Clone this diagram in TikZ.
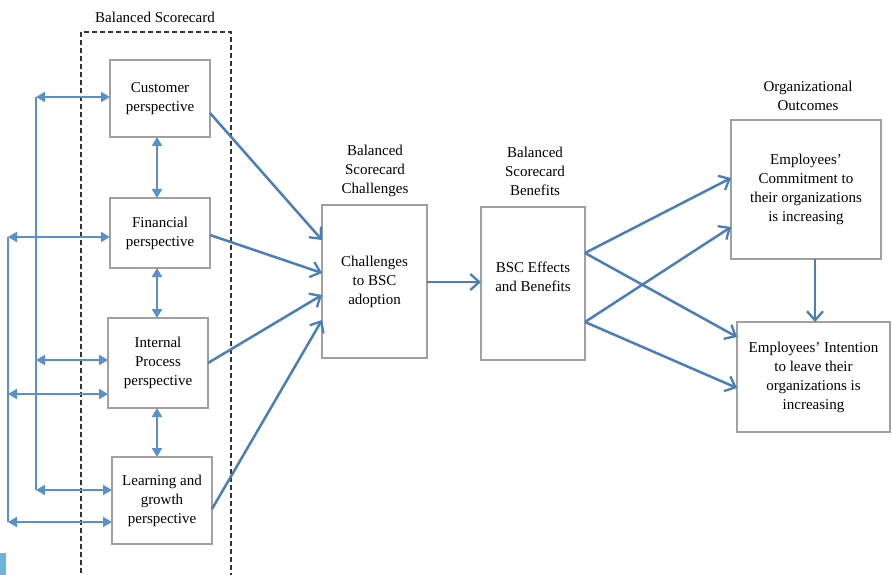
\documentclass[tikz,border=0pt]{standalone}
\usepackage{fontspec}
\setmainfont{Liberation Serif}
\usetikzlibrary{arrows.meta,calc}
\definecolor{arrblue}{HTML}{4A7EBB}
\definecolor{ltblue}{HTML}{5B8FCB}
\definecolor{boxgray}{HTML}{A0A0A0}
\definecolor{dashgray}{HTML}{333333}
\definecolor{cyansq}{HTML}{6CB4DA}
\tikzset{
  box/.style={draw=boxgray, line width=2pt, fill=white, inner sep=0pt, outer sep=0pt, align=center},
  lbl/.style={inner sep=0pt, align=center},
  bigarr/.style={draw=arrblue, line width=2.5pt, -{Straight Barb[length=9pt,width=16pt,line width=2.3pt]}},
  dbl/.style={draw=ltblue, line width=2pt, {Triangle[length=9pt,width=10pt]}-{Triangle[length=9pt,width=10pt]}},
  vline/.style={draw=ltblue, line width=2pt},
}
\begin{document}
\begin{tikzpicture}[x=1pt,y=-1pt]
\useasboundingbox (0,0) rectangle (892,575);
\clip (0,0) rectangle (892,575);
\fontsize{15}{19}\selectfont
% dashed frame
\draw[dashgray, line width=2.8pt, dash pattern=on 5pt off 3pt] (81,32) rectangle (231,590);
\node[lbl] (bsclbl) at (155,17) {Balanced Scorecard};
% small cyan mark
\fill[cyansq] (0,553) rectangle (6,575);
% perspective boxes
\node[box, minimum width=100pt, minimum height=77pt] (cust) at (160,98.5) {Customer\\perspective};
\node[box, minimum width=100pt, minimum height=70pt] (fin) at (160,233) {Financial\\perspective};
\node[box, minimum width=100pt, minimum height=90pt] (int) at (158,363) {Internal\\Process\\perspective};
\node[box, minimum width=100pt, minimum height=87pt] (learn) at (162,500.5) {Learning and\\growth\\perspective};
% middle boxes
\node[lbl] (challbl) at (375,171) {Balanced\\Scorecard\\Challenges};
\node[box, minimum width=105pt, minimum height=153pt] (chal) at (374.5,281.5) {Challenges\\to BSC\\adoption};
\node[lbl] (benlbl) at (535,171) {Balanced\\Scorecard\\Benefits};
\node[box, minimum width=104pt, minimum height=153pt] (ben) at (533,283.5) {};
\node[lbl] (bentext) at (533,277) {BSC Effects\\and Benefits};
% outcome boxes
\node[lbl] (orglbl) at (808,96) {\fontsize{15}{18}\selectfont Organizational\\Outcomes};
\node[box, minimum width=150pt, minimum height=139pt] (comm) at (806,189.5) {Employees’\\Commitment to\\their organizations\\is increasing};
\node[box, minimum width=153pt, minimum height=110pt] (inten) at (813.5,377) {Employees’ Intention\\to leave their\\organizations is\\increasing};
% left feedback lines
\coordinate (i1) at (36,97);
\coordinate (i2) at (36,360);
\coordinate (i3) at (36,490);
\coordinate (o1) at (8,237);
\coordinate (o2) at (8,394);
\coordinate (o3) at (8,522);
\draw[vline] (i1) -- (i3);
\draw[vline] (o1) -- (o3);
\draw[dbl] (i1) -- (i1 -| cust.west);
\draw[dbl] (o1) -- (o1 -| fin.west);
\draw[dbl] (i2) -- (i2 -| int.west);
\draw[dbl] (o2) -- (o2 -| int.west);
\draw[dbl] (i3) -- (i3 -| learn.west);
\draw[dbl] (o3) -- (o3 -| learn.west);
% vertical links between perspectives
\draw[dbl] ($(cust.south)+(-3,0)$) -- ($(fin.north)+(-3,0)$);
\draw[dbl] ($(fin.south)+(-3,0)$) -- ($(int.north)+(-1,0)$);
\draw[dbl] ($(int.south)+(-1,0)$) -- ($(int.south |- learn.north)+(-1,0)$);
% perspectives to challenges
\draw[bigarr] ($(cust.north east)+(0,53)$) -- ($(chal.north west)+(0,35)$);
\draw[bigarr] ($(fin.north east)+(0,37)$) -- ($(chal.north west)+(0,68)$);
\draw[bigarr] ($(int.north east)+(0,45)$) -- ($(chal.north west)+(0,90)$);
\draw[bigarr] ($(learn.north east)+(0,52)$) -- ($(chal.north west)+(0,115)$);
% challenges to benefits
\draw[bigarr] (chal.east |- 0,282) -- (ben.west |- 0,282);
% benefits to outcomes
\coordinate (b1) at ($(ben.north east)+(0,46)$);
\coordinate (b2) at ($(ben.north east)+(0,115)$);
\draw[bigarr] (b1) -- ($(comm.north west)+(0,58)$);
\draw[bigarr] (b1) -- ($(inten.north west)+(0,15)$);
\draw[bigarr] (b2) -- ($(comm.north west)+(0,107)$);
\draw[bigarr] (b2) -- ($(inten.north west)+(0,66)$);
% commitment to intention
\draw[bigarr] (comm.south -| 815,0) -- (inten.north -| 815,0);
\end{tikzpicture}
\end{document}
